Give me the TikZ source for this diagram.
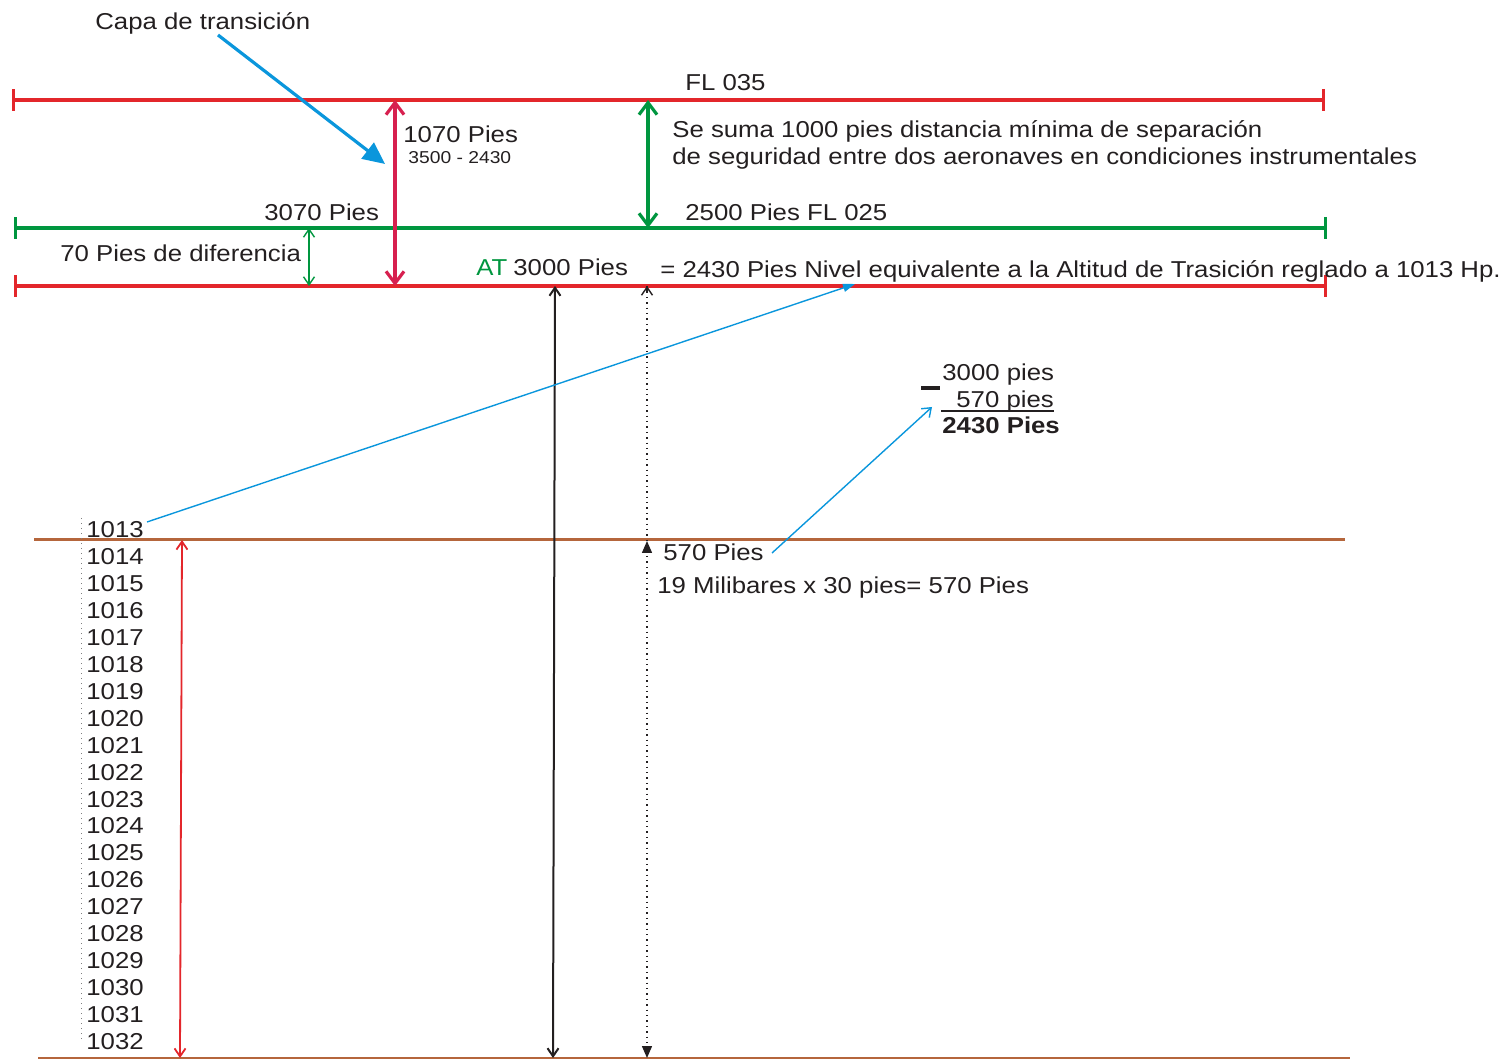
\documentclass[tikz,border=0pt]{standalone}
\usepackage{fontspec}
\setmainfont[FakeStretch=1.12]{Liberation Sans}
\usetikzlibrary{arrows.meta}
\definecolor{lred}{HTML}{E3262B}
\definecolor{crim}{HTML}{D7204F}
\definecolor{lgreen}{HTML}{00963F}
\definecolor{lblue}{HTML}{0A96DC}
\definecolor{lbrown}{HTML}{B5663C}
\definecolor{txtc}{HTML}{231F20}
\begin{document}
\begin{tikzpicture}[x=0.5pt,y=-0.5pt,
  lbl/.style={font=\fontsize{11.5}{13}\selectfont, text=txtc, inner sep=0, anchor=base west},
  smalllbl/.style={lbl, font=\fontsize{8.6}{10}\selectfont},
  redlevel/.style={draw=lred, line width=1.7pt, {Bar[width=11pt]}-{Bar[width=11pt]}},
  greenlevel/.style={draw=lgreen, line width=1.7pt, {Bar[width=11pt]}-{Bar[width=11pt]}},
  brownlevel/.style={draw=lbrown, line width=1.5pt},
  bigbarb/.style={{Straight Barb[length=6pt,width=9pt]}-{Straight Barb[length=6pt,width=9pt]}},
  smallbarb/.style={{Straight Barb[length=4pt,width=5.5pt]}-{Straight Barb[length=4pt,width=5.5pt]}}
]
\useasboundingbox (0,0) rectangle (1512,1059);

% levels
\coordinate (fl35L) at (12,100);  \coordinate (fl35R) at (1325,100);
\coordinate (fl25L) at (14,228);  \coordinate (fl25R) at (1327,228);
\coordinate (atL) at (14,286);    \coordinate (atR) at (1327,286);
\coordinate (b13L) at (34,540);   \coordinate (b13R) at (1345,540);
\coordinate (b32L) at (38,1058);  \coordinate (b32R) at (1350,1058);
\draw[redlevel] (fl35L) -- (fl35R);
\draw[greenlevel] (fl25L) -- (fl25R);
\draw[redlevel] (atL) -- (atR);
\draw[brownlevel] (b13L) -- (b13R);
\draw[brownlevel] (b32L) -- (b32R);

% texts
\node[lbl] (capa) at (95,30) {Capa de transición};
\node[lbl] (fl35) at (685,91) {FL 035};
\node[lbl] (p1070) at (403,143) {1070 Pies};
\node[smalllbl] (resta) at (408,164) {3500 - 2430};
\node[lbl] (suma1) at (672,138) {Se suma 1000 pies distancia mínima de separación};
\node[lbl] (suma2) at (672,165) {de seguridad entre dos aeronaves en condiciones instrumentales};
\node[lbl] (p3070) at (264,221) {3070 Pies};
\node[lbl] (p2500) at (685,221) {2500 Pies FL 025};
\node[lbl] (p70) at (60,262) {70 Pies de diferencia};
\node[lbl, text=lgreen] (at) at (476,276) {AT};
\node[lbl] (p3000) at (513,276) {3000 Pies};
\node[lbl] (eq) at (660,278) {= 2430 Pies Nivel equivalente a la Altitud de Trasición reglado a 1013 Hp.};
\node[lbl] (c3000) at (942,381) {3000 pies};
\node[lbl] (c570) at (956,408) {570 pies};
\node[lbl, font=\fontsize{11.5}{13}\selectfont\bfseries] (c2430) at (942,434) {2430 Pies};
\node[lbl] (p570) at (663,560) {570 Pies};
\node[lbl] (mili) at (657,594) {19 Milibares x 30 pies= 570 Pies};
\draw[line width=2pt, txtc] (921,388) -- (940,388);
\draw[line width=0.8pt, txtc] (941,411) -- (1054,411);

% pressure scale
\foreach \i in {0,...,19}{
  \pgfmathtruncatemacro{\hp}{1013+\i}
  \node[lbl] (n\hp) at (86,{538+26.9*\i}) {\hp};
}
\draw[gray, dotted, line width=0.5pt] (81,518) -- (81,1040);

% dimension arrows
\draw[crim, line width=1.6pt, bigbarb] (395,100) -- (395,286);
\draw[lgreen, line width=1.6pt, bigbarb] (648,100) -- (648,228);
\draw[lgreen, line width=0.7pt, smallbarb] (309,228) -- (309,286);
\draw[txtc, line width=1pt, smallbarb] (555,286) -- (553,1058);
\draw[lred, line width=0.9pt, smallbarb] (182,540) -- (180,1058);
\draw[txtc, dotted, line width=0.7pt] (647,286) -- (647,1058);
\draw[txtc, line width=0.7pt, -{Straight Barb[length=4pt,width=5.5pt]}] (647,291) -- (647,286);
\draw[txtc, line width=0.7pt, -{Triangle[length=6pt,width=5pt]}] (647,1048) -- (647,1058);
\draw[txtc, line width=0.7pt, -{Triangle[length=6pt,width=5pt]}] (647,552) -- (647,541);

% blue pointers
\draw[lblue, line width=1.6pt, -{Triangle[length=11pt,width=10pt]}] (218,35) -- (385,164);
\draw[lblue, line width=0.7pt, -{Triangle[length=6pt,width=4pt]}] (147,522) -- (855,284);
\draw[lblue, line width=0.7pt, -{Straight Barb[length=4pt,width=6pt]}] (772,553) -- (932,407);
\end{tikzpicture}
\end{document}
